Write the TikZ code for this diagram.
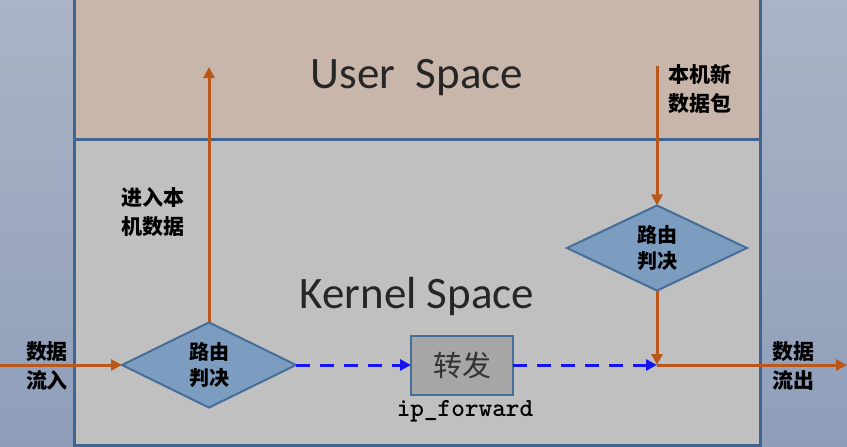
\documentclass[tikz,border=0pt]{standalone}
\usepackage{fontspec}
\setmainfont{Carlito}
\newfontfamily\cjk{Noto Sans CJK SC}
\usetikzlibrary{shapes.geometric,arrows.meta}
\definecolor{bgtop}{RGB}{171,180,198}
\definecolor{bgbot}{RGB}{142,158,186}
\definecolor{userc}{RGB}{201,182,170}
\definecolor{kernc}{RGB}{192,192,192}
\definecolor{framec}{RGB}{64,101,144}
\definecolor{diafill}{RGB}{124,157,192}
\definecolor{diaedge}{RGB}{70,110,152}
\definecolor{orangec}{RGB}{186,88,28}
\definecolor{bluec}{RGB}{20,20,240}
\definecolor{fwdfill}{RGB}{166,166,166}
\tikzset{
  frame/.style={draw=framec,line width=3pt},
  dia/.style={diamond,draw=diaedge,fill=diafill,line width=2pt,inner sep=0pt,outer sep=0pt,
    minimum width=174pt,minimum height=76pt,align=center,
    font=\cjk\bfseries\fontsize{20}{26}\selectfont},
  fwdbox/.style={rectangle,draw=diaedge,fill=fwdfill,line width=2pt,inner sep=0pt,outer sep=0pt,
    minimum width=102pt,minimum height=59pt,text=black!80,
    font=\cjk\fontsize{29}{30}\selectfont},
  cjklabel/.style={align=center,inner sep=0pt,font=\cjk\bfseries\fontsize{21}{29}\selectfont},
  bigtitle/.style={inner sep=0pt,text=black!85,font=\fontsize{45}{50}\selectfont},
  oarr/.style={draw=orangec,line width=3pt,-{Triangle[length=11pt,width=11pt]}},
  barr/.style={draw=bluec,line width=3pt,dash pattern=on 14pt off 10pt,-{Triangle[length=11pt,width=11pt]}},
  monotext/.style={inner sep=0pt,font=\ttfamily\bfseries\fontsize{26}{28}\selectfont}
}
\begin{document}
\begin{tikzpicture}[x=1pt,y=-1pt]
\useasboundingbox (0,0) rectangle (847,447);
\shade[top color=bgtop,bottom color=bgbot] (0,0) rectangle (847,447);
\fill[userc] (74,-5) rectangle (760,139);
\fill[kernc] (74,139) rectangle (760,445);
\draw[frame] (74,-5) -- (74,445) -- (760,445) -- (760,-5);
\draw[frame] (74,139) -- (760,139);

\node[bigtitle] (us) at (417,78) {User\ \ Space};
\node[bigtitle] (ks) at (417,297) {Kernel Space};

\node[dia] (d1) at (209,365) {路由\\判决};
\node[dia,minimum width=180pt,minimum height=79pt] (d2) at (657,248) {路由\\判决};
\node[fwdbox] (fw) at (462,365) {转发};
\node[monotext] (ipf) at (465,411) {ip\_forward};

\node[cjklabel] (lin) at (47,366) {数据\\流入};
\node[cjklabel] (lup) at (153,212) {进入本\\机数据};
\node[cjklabel] (lnew) at (700,89) {本机新\\数据包};
\node[cjklabel] (lout) at (793,366) {数据\\流出};

\coordinate (in) at (0,365);
\coordinate (out) at (847,365);
\coordinate (up) at (209,67);
\coordinate (top) at (657,66);
\coordinate (j) at (657,365);

\draw[oarr] (in) -- (d1.west);
\draw[oarr] (d1.north) -- (up);
\draw[oarr] (top) -- (d2.north);
\draw[oarr] (d2.south) -- (j);
\draw[oarr] (j) -- (out);
\draw[barr] (d1.east) -- (fw.west);
\draw[barr] (fw.east) -- (j);
\end{tikzpicture}
\end{document}
